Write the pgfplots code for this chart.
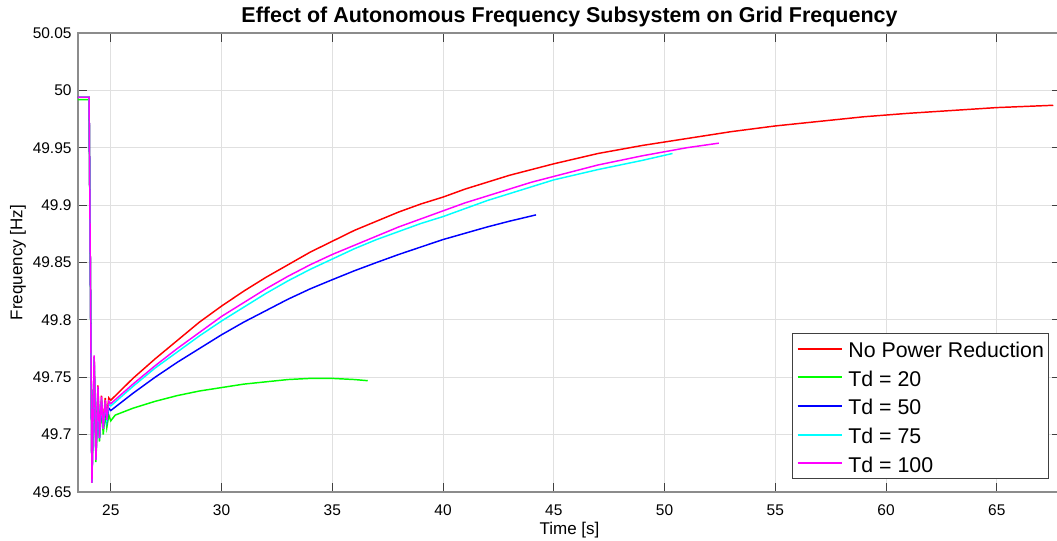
\documentclass[border=0pt]{standalone}
\usepackage{pgfplots}
\pgfplotsset{compat=1.18}
\usepackage{fontspec}
\setmainfont{Liberation Sans}
\definecolor{mred}{RGB}{255,0,0}
\definecolor{mgreen}{RGB}{0,255,0}
\definecolor{mblue}{RGB}{0,0,255}
\definecolor{mcyan}{RGB}{0,255,255}
\definecolor{mmagenta}{RGB}{255,0,255}

\begin{document}
\begin{tikzpicture}
 \begin{axis}[
   at={(0,0)},anchor=south west,
   scale only axis,width=737.25pt,height=344.25pt,
   xmin=23.52,xmax=67.9,ymin=49.65,ymax=50.05,
   xtick={25,30,...,65},
   ytick={49.65,49.7,49.75,49.8,49.85,49.9,49.95,50,50.05},
   /pgf/number format/assume math mode=true,
   tick label style={font=\fontsize{11.6}{13}\selectfont},
   xticklabel style={yshift=-5.8pt},
   yticklabel style={xshift=-1.35pt},
   major tick length=6.75pt,
   tick style={black!75,line width=0.6pt},
   axis line style={black!45,line width=0.8pt},
   grid=major,
   grid style={black!12,line width=0.75pt},
   title={Effect of Autonomous Frequency Subsystem on Grid Frequency},
   title style={font=\fontsize{16.1}{19}\selectfont\bfseries,at={(axis description cs:0.5,1.0174)},anchor=center},
   xlabel={Time [s]},
   xlabel style={font=\fontsize{12.75}{15}\selectfont,at={(axis description cs:0.5,-0.0828)},anchor=center},
   ylabel={Frequency [Hz]},
   ylabel style={font=\fontsize{12.75}{15}\selectfont,at={(axis description cs:-0.061,0.5)},anchor=center},
   legend cell align=left,
   legend image code/.code={\draw[#1,line width=1.5pt] (0pt,0pt) -- (33pt,0pt);},
   legend style={at={(axis description cs:0.98779,0.02832)},anchor=south east,
     font=\fontsize{16}{19}\selectfont,draw=black!75,line width=0.6pt,fill=white,
     inner xsep=3.45pt,inner ysep=4pt,row sep=6.5pt,column sep=4.3pt,
     nodes={inner sep=0pt,text height=14.3pt,text depth=0.7pt}},
 ]
  % no power reduction
  \addplot[mred,line width=1.1pt] coordinates {
   (23.52,49.994) (24.02,49.994) (24.15,49.660) (24.25,49.768) (24.33,49.680)
   (24.42,49.743) (24.49,49.699) (24.58,49.734) (24.66,49.708) (24.75,49.732)
   (24.82,49.716) (24.91,49.732) (25.0,49.730) (26,49.749) (27,49.766)
   (28,49.782) (29,49.798) (30,49.812) (31,49.825) (32,49.837) (33,49.848)
   (34,49.859) (35,49.8685) (36,49.878) (37,49.886) (38,49.894) (39,49.901)
   (40,49.907) (41,49.914) (42,49.920) (43,49.926) (44,49.931) (45,49.936)
   (47,49.945) (49,49.952) (51,49.958) (53,49.964) (55,49.969) (57,49.973)
   (59,49.977) (61,49.980) (63,49.9825) (65,49.985) (67.55,49.987)
  };
  % Td = 20
  \addplot[mgreen,line width=1.1pt] coordinates {
   (23.52,49.992) (24.02,49.992) (24.15,49.658) (24.25,49.760) (24.33,49.676)
   (24.42,49.735) (24.49,49.694) (24.58,49.724) (24.66,49.700) (24.75,49.719)
   (24.82,49.706) (24.91,49.717) (25.0,49.712) (25.2,49.717) (25.6,49.720)
   (26,49.723) (27,49.729) (28,49.734) (29,49.738) (30,49.741) (31,49.744)
   (32,49.746) (33,49.748) (34,49.749) (35,49.749) (36,49.748) (36.6,49.747)
  };
  % Td = 50
  \addplot[mblue,line width=1.1pt] coordinates {
   (23.52,49.994) (24.02,49.994) (24.15,49.659) (24.25,49.765) (24.33,49.679)
   (24.42,49.738) (24.49,49.697) (24.58,49.728) (24.66,49.705) (24.75,49.725)
   (24.82,49.712) (24.91,49.723) (25.0,49.721) (26,49.736) (27,49.750)
   (28,49.763) (29,49.775) (30,49.787) (31,49.798) (32,49.808) (33,49.818)
   (34,49.827) (35,49.835) (36,49.8428) (37,49.850) (38,49.857) (39,49.8635)
   (40,49.870) (41,49.8755) (42,49.881) (43,49.886) (44.2,49.8915)
  };
  % Td = 75
  \addplot[mcyan,line width=1.1pt] coordinates {
   (23.52,49.994) (24.02,49.994) (24.15,49.658) (24.25,49.767) (24.33,49.678)
   (24.42,49.740) (24.49,49.697) (24.58,49.731) (24.66,49.705) (24.75,49.728)
   (24.82,49.713) (24.91,49.727) (25.0,49.725) (26,49.742) (27,49.758)
   (28,49.772) (29,49.786) (30,49.799) (31,49.811) (32,49.823) (33,49.834)
   (34,49.844) (35,49.853) (36,49.862) (37,49.870) (38,49.877) (39,49.884)
   (40,49.890) (41,49.897) (42,49.904) (43,49.910) (44,49.916) (45,49.922)
   (47,49.931) (49,49.939) (50.36,49.945)
  };
  % Td = 100
  \addplot[mmagenta,line width=1.1pt] coordinates {
   (23.52,49.994) (24.02,49.994) (24.15,49.658) (24.25,49.769) (24.33,49.678)
   (24.42,49.742) (24.49,49.697) (24.58,49.733) (24.66,49.705) (24.75,49.730)
   (24.82,49.713) (24.91,49.729) (25.0,49.727) (26,49.744) (27,49.760)
   (28,49.775) (29,49.789) (30,49.803) (31,49.815) (32,49.827) (33,49.838)
   (34,49.848) (35,49.857) (36,49.865) (37,49.873) (38,49.881) (39,49.888)
   (40,49.895) (41,49.902) (42,49.908) (43,49.914) (44,49.920) (45,49.925)
   (47,49.935) (49,49.943) (51,49.950) (52.45,49.954)
  };
  \legend{No Power Reduction,Td = 20,Td = 50,Td = 75,Td = 100}
 \end{axis}
 \pgfresetboundingbox
 \path[use as bounding box] (-58.5pt,-36.75pt) rectangle (734.25pt,369pt);
\end{tikzpicture}
\end{document}
